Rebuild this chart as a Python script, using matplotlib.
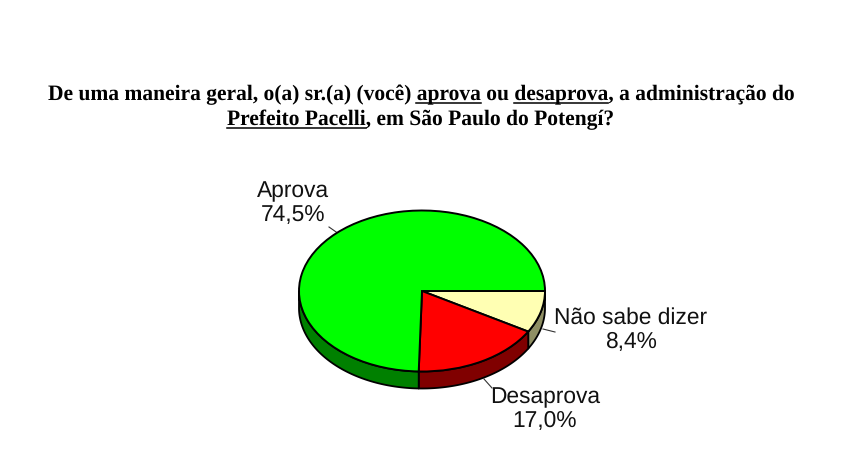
import numpy as np
import matplotlib
matplotlib.use("Agg")
import matplotlib.pyplot as plt

plt.rcParams["text.hinting"] = "no_hinting"

# dados do grafico (sentido horario a partir de 0 graus)
categorias = ["Não sabe dizer", "Desaprova", "Aprova"]
valores = [8.4, 17.0, 74.5]
rotulos = ["8,4%", "17,0%", "74,5%"]

cores_topo = ["#FFFFB3", "#FF0000", "#00FF00"]
cores_lado = ["#8F8F64", "#800000", "#008000"]

linha1 = "De uma maneira geral, o(a) sr.(a) (você) aprova ou desaprova, a administração do"
linha2 = "Prefeito Pacelli, em São Paulo do Potengí?"
sublinhado1 = ["aprova", "desaprova"]
sublinhado2 = ["Prefeito Pacelli"]

W, H = 848, 457
CX, CY, RX, RY = 422, 291, 123, 80.5
PROF = 17 / RY  # espessura da pizza em unidades do eixo

fig = plt.figure(figsize=(W / 100, H / 100), dpi=100)

# fundo em pixels, para textos e linhas
bg = fig.add_axes([0, 0, 1, 1])
bg.set_xlim(0, W)
bg.set_ylim(H, 0)
bg.axis("off")

ax = fig.add_axes([(CX - RX) / W, (H - CY - RY) / H, 2 * RX / W, 2 * RY / H])

# lateral da pizza
fim = 0.0
total = sum(valores)
for v, c in zip(valores, cores_lado):
    ini = fim
    fim = ini + v / total * 360
    a = np.radians(np.linspace(ini, min(fim, 180), 80))
    if ini >= 180:
        continue
    x = np.cos(a)
    y = -np.sin(a)
    px = np.concatenate([x, x[::-1]])
    py = np.concatenate([y, y[::-1] - PROF])
    ax.fill(px, py, facecolor=c, edgecolor="black", lw=1.3, clip_on=False, joinstyle="round")

ax.pie(valores, colors=cores_topo, startangle=0, counterclock=False, radius=1,
       wedgeprops={"edgecolor": "black", "linewidth": 1.4, "clip_on": False})
ax.set_aspect("auto")
ax.set_xlim(-1, 1)
ax.set_ylim(-1, 1)

# rotulos
fonte = dict(family="Liberation Sans", fontsize=16.4, color="#111111", ha="center", va="center")
pos = [(630.5, 330), (545, 409), (293, 203)]
for nome, rot, (x, y) in zip(categorias, rotulos, pos):
    bg.text(x, y - 12, nome, **fonte)
    bg.text(x, y + 12, rot, **fonte)

# linhas de chamada
chamadas = [((543, 329), (555, 332)), ((484, 379), (492, 388)), ((329, 227), (339, 234))]
for p, q in chamadas:
    bg.plot([p[0], q[0]], [p[1], q[1]], color="#333333", lw=0.8)

# titulo com trechos sublinhados
fig.canvas.draw()
rend = fig.canvas.get_renderer()


def largura(s, **kw):
    # o "|" final garante que espacos entram na medida
    t = bg.text(0, 0, s + "|", **kw)
    b = t.get_window_extent(rend).width
    t.set_text("|")
    b -= t.get_window_extent(rend).width
    t.remove()
    return b


def titulo(s, y, partes, fs):
    kw = dict(family="Liberation Serif", weight="bold", fontsize=fs)
    tot = largura(s, **kw)
    x0 = 421 - tot / 2
    bg.text(x0, y, s, color="black", ha="left", va="baseline", **kw)
    for p in partes:
        i = s.index(p)
        xa = x0 + largura(s[:i], **kw)
        xb = xa + largura(p, **kw)
        bg.plot([xa, xb], [y + 3, y + 3], color="black", lw=1.1)


titulo(linha1, 100, sublinhado1, 15.5)
titulo(linha2, 125, sublinhado2, 15.5)

fig.savefig("out.png", dpi=100, facecolor="white")
